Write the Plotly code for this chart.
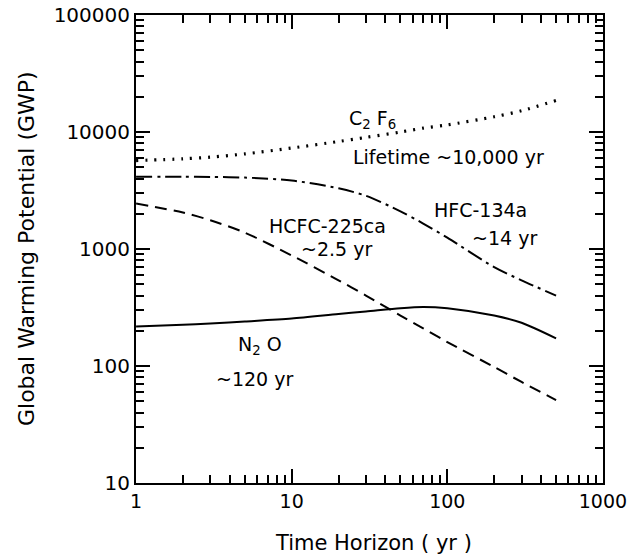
import plotly.graph_objects as go

# Time horizon (yr)
t = [1, 2, 3, 5, 10, 20, 30, 50, 70, 100, 200, 300, 500]

gwp_c2f6 = [5700, 5900, 6100, 6500, 7300, 8300, 9000, 10000, 10800, 11500, 13500, 15200, 18600]
gwp_hfc134a = [4150, 4150, 4130, 4080, 3850, 3300, 2850, 2100, 1650, 1250, 700, 540, 400]
gwp_hcfc225ca = [2450, 2050, 1760, 1380, 880, 540, 400, 270, 210, 160, 98, 73, 51]
gwp_n2o = [217, 225, 231, 240, 254, 278, 292, 312, 320, 312, 270, 234, 172]

x_tickvals = [1, 10, 100, 1000]
x_ticktext = ["1", "10", "100", "1000"]
y_tickvals = [10, 100, 1000, 10000, 100000]
y_ticktext = ["10", "100", "1000", "10000", "100000"]

FONT = "DejaVu Sans"

fig = go.Figure()
fig.add_trace(go.Scatter(x=t, y=gwp_c2f6, mode="lines", name="C2F6",
                         line=dict(color="black", width=3.2, dash="2px,7px", shape="spline", smoothing=0.8)))
fig.add_trace(go.Scatter(x=t, y=gwp_hfc134a, mode="lines", name="HFC-134a",
                         line=dict(color="black", width=2, dash="16px,5px,3px,5px", shape="spline", smoothing=0.8)))
fig.add_trace(go.Scatter(x=t, y=gwp_hcfc225ca, mode="lines", name="HCFC-225ca",
                         line=dict(color="black", width=2, dash="12px,7px", shape="spline", smoothing=0.8)))
fig.add_trace(go.Scatter(x=t, y=gwp_n2o, mode="lines", name="N2O",
                         line=dict(color="black", width=2, shape="spline", smoothing=0.8)))

axis_common = dict(
    type="log", showgrid=False, zeroline=False, showline=True, linecolor="black", linewidth=2,
    mirror="allticks", ticks="inside", ticklen=14, tickwidth=2, tickcolor="black",
    tickmode="array", ticklabeloverflow="allow", automargin=False,
    minor=dict(ticks="inside", ticklen=8, tickwidth=1.5, tickcolor="black", dtick="D1", showgrid=False),
)

fig.update_xaxes(**axis_common, range=[-0.0005, 3.0005], tickvals=x_tickvals, ticktext=x_ticktext,
                 tickfont=dict(family=FONT, size=19, color="black"))
fig.update_yaxes(**axis_common, range=[0.9995, 5.0005], tickvals=y_tickvals, ticktext=y_ticktext,
                 tickfont=dict(family=FONT, size=20, color="black"))

ann_font = dict(family=FONT, size=19, color="black")
labels = [
    (1.522, 4.103, "C<sub>2</sub> F<sub>6</sub>"),
    (2.010, 3.786, "Lifetime ~10,000 yr"),
    (2.216, 3.333, "HFC-134a"),
    (2.370, 3.094, "~14 yr"),
    (1.233, 3.197, "HCFC-225ca"),
    (1.291, 3.000, "~2.5 yr"),
    (0.796, 2.171, "N<sub>2</sub> O"),
    (0.758, 1.889, "~120 yr"),
]
for lx, ly, txt in labels:
    fig.add_annotation(x=lx, y=ly, xref="x", yref="y", text=txt, showarrow=False,
                       font=ann_font, xanchor="center", yanchor="middle")

fig.add_annotation(x=0.5075, y=-0.128, xref="paper", yref="paper", text="Time Horizon ( yr )",
                   showarrow=False, font=dict(family=FONT, size=21, color="black"),
                   xanchor="center", yanchor="middle")
fig.add_annotation(x=-0.2355, y=0.5, xref="paper", yref="paper", text="Global Warming Potential (GWP)",
                   showarrow=False, textangle=-90, font=dict(family=FONT, size=22, color="black"),
                   xanchor="center", yanchor="middle")

fig.update_layout(
    width=628, height=558,
    margin=dict(l=136, r=25, t=15, b=75, autoexpand=False),
    paper_bgcolor="white", plot_bgcolor="white",
    showlegend=False,
)

fig.write_html("out.html")
